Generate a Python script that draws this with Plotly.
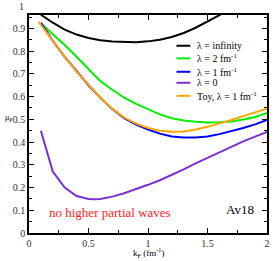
import plotly.graph_objects as go

kf_inf = [0.1, 0.2, 0.3, 0.4, 0.5, 0.6, 0.7, 0.8, 0.9, 1.0, 1.1, 1.2, 1.3, 1.4, 1.5, 1.6, 1.7]
mu_inf = [0.96, 0.925, 0.895, 0.873, 0.858, 0.848, 0.842, 0.839, 0.839, 0.843, 0.85, 0.862, 0.88, 0.903, 0.93, 0.958, 0.99]

kf_l2 = [0.1, 0.2, 0.3, 0.4, 0.5, 0.6, 0.7, 0.8, 0.9, 1.0, 1.1, 1.2, 1.3, 1.4, 1.5, 1.6, 1.7, 1.8, 1.9, 2.0]
mu_l2 = [0.922, 0.875, 0.827, 0.775, 0.72, 0.668, 0.63, 0.595, 0.568, 0.545, 0.522, 0.505, 0.495, 0.489, 0.486, 0.487, 0.491, 0.499, 0.51, 0.528]

kf_l1 = [0.1, 0.2, 0.3, 0.4, 0.5, 0.6, 0.7, 0.8, 0.9, 1.0, 1.1, 1.2, 1.3, 1.4, 1.5, 1.6, 1.7, 1.8, 1.9, 2.0]
mu_l1 = [0.925, 0.845, 0.775, 0.71, 0.65, 0.595, 0.545, 0.505, 0.477, 0.455, 0.437, 0.425, 0.42, 0.42, 0.425, 0.435, 0.448, 0.462, 0.478, 0.497]

kf_l0 = [0.1, 0.2, 0.3, 0.4, 0.5, 0.55, 0.6, 0.7, 0.8, 0.9, 1.0, 1.1, 1.2, 1.3, 1.4, 1.5, 1.6, 1.7, 1.8, 1.9, 2.0]
mu_l0 = [0.45, 0.27, 0.2, 0.163, 0.15, 0.148, 0.15, 0.16, 0.175, 0.192, 0.212, 0.232, 0.255, 0.28, 0.306, 0.33, 0.355, 0.38, 0.403, 0.424, 0.445]

kf_toy = [0.08, 0.2, 0.3, 0.4, 0.5, 0.6, 0.7, 0.8, 0.9, 1.0, 1.1, 1.2, 1.3, 1.4, 1.5, 1.6, 1.7, 1.8, 1.9, 2.0]
mu_toy = [0.93, 0.845, 0.775, 0.71, 0.65, 0.595, 0.547, 0.508, 0.481, 0.462, 0.45, 0.445, 0.447, 0.455, 0.467, 0.481, 0.497, 0.514, 0.53, 0.547]

labels = ["λ = infinity", "λ = 2 fm<sup>-1</sup>", "λ = 1 fm<sup>-1</sup>", "λ = 0", "Toy, λ = 1 fm<sup>-1</sup>"]
colors = ["#000000", "#00ee00", "#0000ff", "#7b2fd0", "#ffa500"]
series = [(kf_inf, mu_inf), (kf_l2, mu_l2), (kf_l1, mu_l1), (kf_l0, mu_l0), (kf_toy, mu_toy)]
draw_order = [3, 1, 2, 4, 0]

y_ticks = [0, 0.1, 0.2, 0.3, 0.4, 0.5, 0.6, 0.7, 0.8, 0.9]
y_tick_text = ["0", "0.1", "0.2", "0.3", "0.4", "0.5", "0.6", "0.7", "0.8", "0.9"]
x_ticks = [0, 0.5, 1, 1.5, 2]
x_tick_text = ["0", "0.5", "1", "1.5", "2"]

FONT = "Liberation Serif"
W, H = 276, 261
L, R, T, B = 29.3, 6.7, 15, 28.3
pw, ph = W - L - R, H - T - B

fig = go.Figure()
for i in draw_order:
    x, y = series[i]
    fig.add_trace(go.Scatter(x=x, y=y, mode="lines", line=dict(color=colors[i], width=2),
                             showlegend=False, hoverinfo="skip"))

def px_to_paper(px, py):
    return (px - L) / pw, (H - B - py) / ph

shapes = []
annotations = []
leg_y = [45.7, 58.3, 71.7, 82.7, 95.7]
for lab, col, py in zip(labels, colors, leg_y):
    x0, y0 = px_to_paper(178, py)
    x1, _ = px_to_paper(192, py)
    shapes.append(dict(type="line", xref="paper", yref="paper", x0=x0, x1=x1, y0=y0, y1=y0,
                       line=dict(color=col, width=2)))
    tx, _ = px_to_paper(197, py)
    annotations.append(dict(xref="paper", yref="paper", x=tx, y=y0, text=lab, showarrow=False,
                            xanchor="left", yanchor="middle", font=dict(family=FONT, size=10, color="black")))

# "1" label at the top of y-axis
ax1, ay1 = px_to_paper(26, 7)
annotations.append(dict(xref="paper", yref="paper", x=ax1, y=ay1, text="1", showarrow=False,
                        xanchor="right", yanchor="middle", font=dict(family=FONT, size=10, color="#333333")))
# y axis title
yx, yy = px_to_paper(9, 118)
annotations.append(dict(xref="paper", yref="paper", x=yx, y=yy, text="μ<sub>P</sub>", showarrow=False,
                        xanchor="center", yanchor="middle", font=dict(family=FONT, size=8, color="black")))
# x axis title
xx, xy = px_to_paper(150, 252)
annotations.append(dict(xref="paper", yref="paper", x=xx, y=xy, text="k<sub>F</sub> (fm<sup>-1</sup>)", showarrow=False,
                        xanchor="center", yanchor="middle", font=dict(family=FONT, size=9, color="black")))
# red note
rx, ry = px_to_paper(47, 212)
annotations.append(dict(xref="paper", yref="paper", x=rx, y=ry, text="no higher partial waves", showarrow=False,
                        xanchor="left", yanchor="middle", font=dict(family=FONT, size=13, color="#ff2020")))
# Av18
ax, ay = px_to_paper(258, 209)
annotations.append(dict(xref="paper", yref="paper", x=ax, y=ay, text="Av18", showarrow=False,
                        xanchor="right", yanchor="middle", font=dict(family=FONT, size=13, color="black")))

axis_common = dict(showline=True, linecolor="black", linewidth=1.5, mirror="allticks",
                   ticks="inside", ticklen=5, tickwidth=1, tickcolor="black",
                   showgrid=False, zeroline=False,
                   tickfont=dict(family=FONT, size=10, color="#333333"))

fig.update_layout(
    width=W, height=H,
    margin=dict(l=L, r=R, t=T, b=B, pad=0),
    paper_bgcolor="white", plot_bgcolor="white",
    xaxis=dict(range=[0, 2], tickvals=x_ticks, ticktext=x_tick_text,
               minor=dict(dtick=0.25, ticklen=3, ticks="inside", tickcolor="black"), **axis_common),
    yaxis=dict(range=[0, 0.959], tickvals=y_ticks, ticktext=y_tick_text,
               minor=dict(dtick=0.05, ticklen=3, ticks="inside", tickcolor="black"), **axis_common),
    shapes=shapes, annotations=annotations, showlegend=False,
)

fig.write_html("out.html", config={"displayModeBar": False},
               post_script="document.body.style.margin='0';document.body.style.overflow='hidden';")
